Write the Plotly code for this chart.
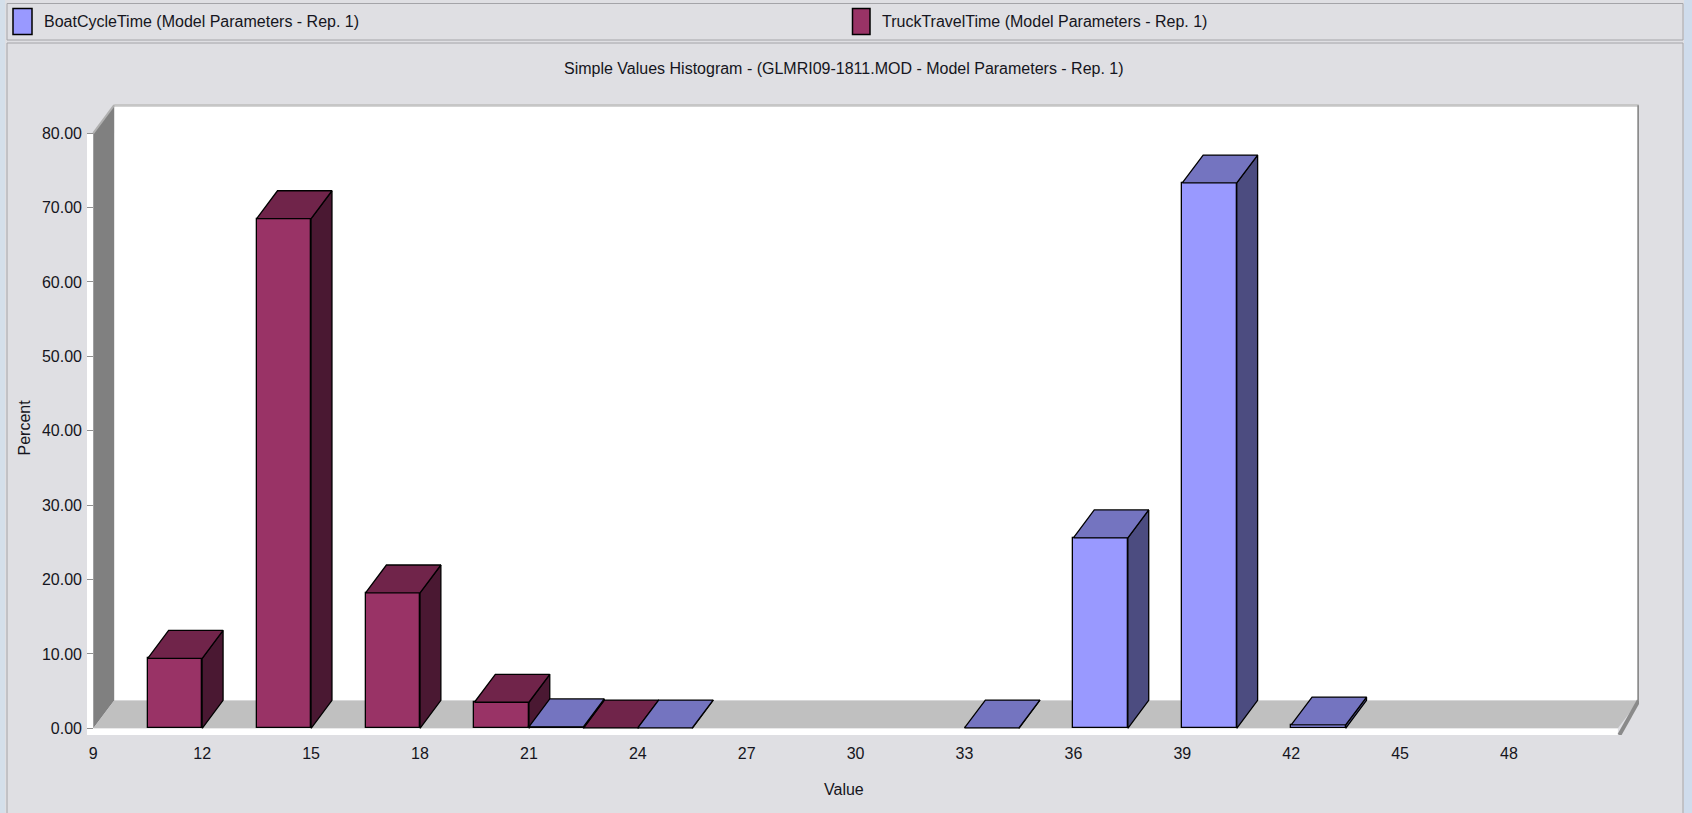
import plotly.graph_objects as go

# ---------------- data ----------------
x_tick_vals = [9, 12, 15, 18, 21, 24, 27, 30, 33, 36, 39, 42, 45, 48]
y_tick_vals = [0, 10, 20, 30, 40, 50, 60, 70, 80]

truck_bins = [12, 15, 18, 21, 24]
truck_pct = [9.4, 68.5, 18.2, 3.5, 0.05]

boat_bins = [21, 24, 33, 36, 39, 42]
boat_pct = [0.2, 0.05, 0.05, 25.6, 73.3, 0.45]

boat_name = "BoatCycleTime (Model Parameters - Rep. 1)"
truck_name = "TruckTravelTime (Model Parameters - Rep. 1)"
title_text = "Simple Values Histogram - (GLMRI09-1811.MOD - Model Parameters - Rep. 1)"

# ---------------- styling / geometry ----------------
W, H = 1692, 813
L, R_EDGE, T, B_EDGE = 87, 1639, 104, 735
PW, PH = R_EDGE - L, B_EDGE - T
X_PX0, X_SC = 93.3, 36.3      # pixel of value 9, px per unit
Y_PX0, Y_SC = 728.3, 7.44     # pixel of value 0, px per unit
XR = [9 - (X_PX0 - L) / X_SC, 9 + (R_EDGE - X_PX0) / X_SC]
YR = [-(B_EDGE - Y_PX0) / Y_SC, (Y_PX0 - T) / Y_SC]
X_MIN, X_MAX, Y_TOP = 9, 51, 80
DX, DY = 0.575, 3.75          # depth of the 3D effect in data units
BW = 1.5                      # bar width

FONT = "Liberation Sans, Arial, sans-serif"
PAPER = "#dfdfe3"
TXT = "#151520"

BOAT = dict(front="#9999FF", top="#7474C0", side="#4C4C80")
TRUCK = dict(front="#993366", top="#70244A", side="#4A1832")


def px(xp):
    return (xp - L) / PW


def py(yp):
    return (B_EDGE - yp) / PH


fig = go.Figure()


def add_series(bins, vals, off, col, name):
    fig.add_trace(go.Bar(
        x=bins, y=vals, offset=off, width=BW, base=0,
        marker=dict(color=col["front"], line=dict(color="black", width=1.3)),
        name=name, showlegend=False, hoverinfo="skip"))
    sx, sy, tx, ty = [], [], [], []
    for c, v in zip(bins, vals):
        a = c + off
        b = a + BW
        sx += [b, b, b + DX, b + DX, b, None]
        sy += [0, v, v + DY, DY, 0, None]
        tx += [a, b, b + DX, a + DX, a, None]
        ty += [v, v, v + DY, v + DY, v, None]
    fig.add_trace(go.Scatter(x=sx, y=sy, mode="lines", fill="toself",
                             fillcolor=col["side"], line=dict(color="black", width=1.3),
                             showlegend=False, hoverinfo="skip"))
    fig.add_trace(go.Scatter(x=tx, y=ty, mode="lines", fill="toself",
                             fillcolor=col["top"], line=dict(color="black", width=1.3),
                             showlegend=False, hoverinfo="skip"))


add_series(truck_bins, truck_pct, -BW, TRUCK, truck_name)
add_series(boat_bins, boat_pct, 0, BOAT, boat_name)

shapes = []
# white front strips (L shape)
shapes.append(dict(type="rect", xref="x", yref="y", x0=XR[0], x1=X_MAX, y0=YR[0], y1=0,
                   fillcolor="white", line=dict(width=0), layer="below"))
shapes.append(dict(type="rect", xref="x", yref="y", x0=XR[0], x1=X_MIN, y0=YR[0], y1=Y_TOP,
                   fillcolor="white", line=dict(width=0), layer="below"))
# back wall
shapes.append(dict(type="rect", xref="x", yref="y", x0=X_MIN + DX, x1=X_MAX + DX, y0=DY, y1=Y_TOP + DY,
                   fillcolor="white", line=dict(width=0), layer="below"))
# left wall
shapes.append(dict(type="path", xref="x", yref="y",
                   path=f"M {X_MIN},0 L {X_MIN},{Y_TOP} L {X_MIN+DX},{Y_TOP+DY} L {X_MIN+DX},{DY} Z",
                   fillcolor="#808080", line=dict(width=0), layer="below"))
# floor
shapes.append(dict(type="path", xref="x", yref="y",
                   path=f"M {X_MIN},0 L {X_MAX},0 L {X_MAX+DX},{DY} L {X_MIN+DX},{DY} Z",
                   fillcolor="#c0c0c0", line=dict(width=0), layer="below"))
# edges
shapes.append(dict(type="line", xref="x", yref="y", x0=X_MIN + DX, x1=X_MAX + DX, y0=Y_TOP + DY, y1=Y_TOP + DY,
                   line=dict(color="#c6c6c6", width=3), layer="below"))
shapes.append(dict(type="line", xref="x", yref="y", x0=X_MAX + DX, x1=X_MAX + DX, y0=DY, y1=Y_TOP + DY,
                   line=dict(color="#8c8c8c", width=3), layer="below"))
shapes.append(dict(type="line", xref="x", yref="y", x0=X_MAX + 0.04, x1=X_MAX + DX, y0=YR[0], y1=DY,
                   line=dict(color="#8a8a8a", width=4), layer="below"))
shapes.append(dict(type="line", xref="x", yref="y", x0=X_MIN, x1=X_MIN + DX, y0=Y_TOP, y1=Y_TOP + DY,
                   line=dict(color="#b0b0b0", width=2), layer="below"))

# window frame / legend bar
shapes.append(dict(type="rect", xref="paper", yref="paper", x0=px(0), x1=px(5), y0=py(0), y1=py(H),
                   fillcolor="#d4dfea", line=dict(width=0), layer="below"))
shapes.append(dict(type="rect", xref="paper", yref="paper", x0=px(1684), x1=px(W), y0=py(0), y1=py(H),
                   fillcolor="#cfdcec", line=dict(width=0), layer="below"))
shapes.append(dict(type="rect", xref="paper", yref="paper", x0=px(7), x1=px(1683), y0=py(3.5), y1=py(40),
                   fillcolor=PAPER, line=dict(color="#a4a4a8", width=1), layer="below"))
shapes.append(dict(type="rect", xref="paper", yref="paper", x0=px(7), x1=px(1683), y0=py(43), y1=py(H + 5),
                   fillcolor=PAPER, line=dict(color="#a4a4a8", width=1), layer="below"))
# legend swatches
shapes.append(dict(type="rect", xref="paper", yref="paper", x0=px(13), x1=px(32), y0=py(8.6), y1=py(34.5),
                   fillcolor=BOAT["front"], line=dict(color="black", width=1.5)))
shapes.append(dict(type="rect", xref="paper", yref="paper", x0=px(852.5), x1=px(870), y0=py(8.6), y1=py(34.5),
                   fillcolor=TRUCK["front"], line=dict(color="black", width=1.5)))

annotations = [
    dict(text=boat_name, x=px(42), y=py(21.5), xref="paper", yref="paper", xanchor="left",
         yanchor="middle", showarrow=False, font=dict(family=FONT, size=16, color=TXT)),
    dict(text=truck_name, x=px(880), y=py(21.5), xref="paper", yref="paper", xanchor="left",
         yanchor="middle", showarrow=False, font=dict(family=FONT, size=16, color=TXT)),
    dict(text=title_text, x=px(844), y=py(68), xref="paper", yref="paper", xanchor="center",
         yanchor="middle", showarrow=False, font=dict(family=FONT, size=16, color=TXT)),
    dict(text="Percent", x=px(23.5), y=py(428), xref="paper", yref="paper", xanchor="center",
         yanchor="middle", showarrow=False, textangle=-90, font=dict(family=FONT, size=16, color=TXT)),
    dict(text="Value", x=px(844), y=py(789), xref="paper", yref="paper", xanchor="center",
         yanchor="middle", showarrow=False, font=dict(family=FONT, size=16, color=TXT)),
]

fig.update_layout(
    width=W, height=H,
    margin=dict(l=L, r=W - R_EDGE, t=T, b=H - B_EDGE, pad=0),
    paper_bgcolor=PAPER, plot_bgcolor=PAPER,
    showlegend=False,
    shapes=shapes, annotations=annotations,
    xaxis=dict(range=XR, tickvals=x_tick_vals, ticktext=[str(v) for v in x_tick_vals],
               showgrid=False, zeroline=False, showline=False, ticks="",
               ticklabelstandoff=7,
               tickfont=dict(family=FONT, size=16, color=TXT), fixedrange=True),
    yaxis=dict(range=YR, tickvals=y_tick_vals, ticktext=[f"{v:.2f}" for v in y_tick_vals],
               showgrid=False, zeroline=False, showline=False, ticks="inside", ticklen=6,
               tickcolor="#909090", tickwidth=1, ticklabelstandoff=4,
               tickfont=dict(family=FONT, size=16, color=TXT), fixedrange=True),
    bargap=0,
)

fig.write_html("out.html")
